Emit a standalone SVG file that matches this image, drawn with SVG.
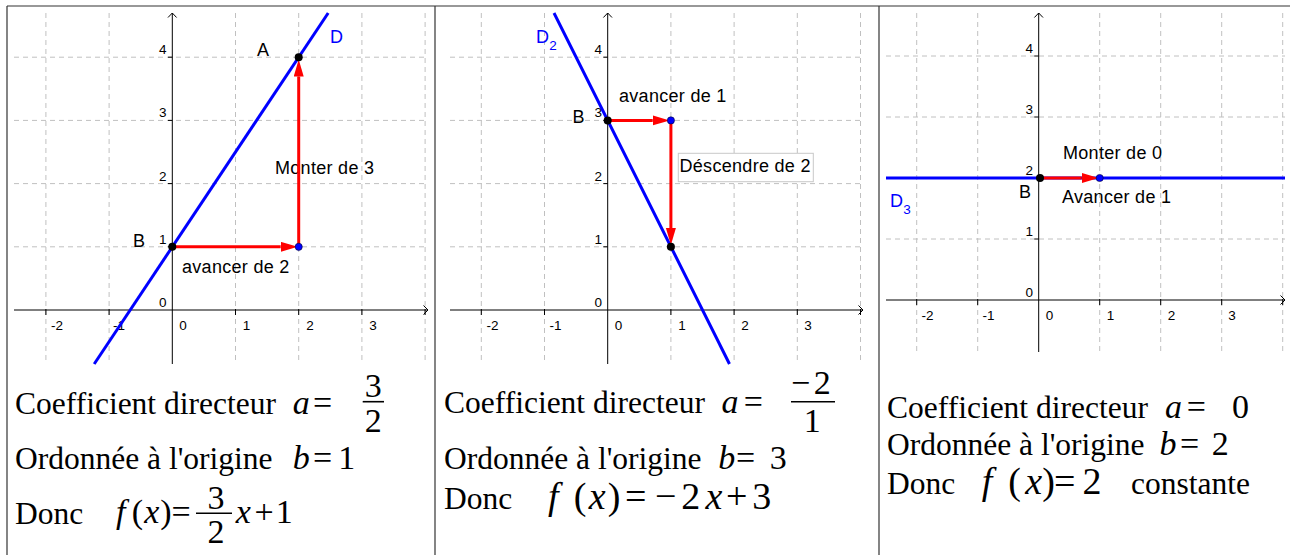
<svg xmlns="http://www.w3.org/2000/svg" width="1290" height="555" viewBox="0 0 1290 555">
<defs>
<style>
.grid{stroke:#c0c0c0;stroke-width:1;stroke-dasharray:5 4;fill:none}
.axis{stroke:#000;stroke-width:1;fill:none}
.tkx{font-family:'Liberation Sans',Arial,sans-serif;font-size:13.5px;fill:#000;text-anchor:middle}
.tky{font-family:'Liberation Sans',Arial,sans-serif;font-size:13.5px;fill:#000;text-anchor:end}
.lbl{font-family:'Liberation Sans',Arial,sans-serif;font-size:18px;fill:#000;letter-spacing:0.3px}
.blue{fill:#0000ff}
.dline{stroke:#0000ff;stroke-width:3;fill:none}
.vec{stroke:#ff0000;stroke-width:3;fill:none;marker-end:url(#ah)}
.pt{fill:#000}
.ptb{fill:#0000ff;stroke:#000033;stroke-width:0.6}
.border{stroke:#333;stroke-width:1.2;fill:none}
.ser{font-family:'Liberation Serif','Times New Roman',serif}
.txt{font-size:31.5px;fill:#000}
.m{font-size:34px;fill:#000;text-anchor:middle}
.mi{font-size:34px;fill:#000;text-anchor:middle;font-style:italic}
.mb{font-size:38px;fill:#000;text-anchor:middle}
.mbi{font-size:38px;fill:#000;text-anchor:middle;font-style:italic}
.bar{stroke:#000;stroke-width:1.6}
</style>
<marker id="ah" markerUnits="userSpaceOnUse" markerWidth="18" markerHeight="11" refX="0" refY="5" orient="auto">
<path d="M0,0 L17,5 L0,10 Z" fill="#ff0000"/>
</marker>
</defs>
<rect x="0" y="0" width="1290" height="555" fill="#fff"/>

<g id="borders">
<line class="border" x1="7" y1="6" x2="1290" y2="6"/>
<line class="border" x1="7" y1="6" x2="7" y2="555"/>
<line class="border" x1="435" y1="6" x2="435" y2="555"/>
<line class="border" x1="879" y1="6" x2="879" y2="555"/>
</g>

<!-- Panel 1 -->
<g id="panel1-grid">
<path class="grid" d="M45.9,13V364M109.1,13V364M235.5,13V364M298.7,13V364M361.9,13V364M425.1,13V364M14,246.8H428M14,183.6H428M14,120.4H428M14,57.2H428"/>
<path class="axis" d="M14,310H428M423.5,305.5L428,310L423.5,314.5M172.3,364V13M168,17.5L172.3,13L176.6,17.5"/>
<path class="axis" d="M45.9,309V315M109.1,309V315M235.5,309V315M298.7,309V315M361.9,309V315M425.1,309V315M168,246.8H172.3M168,183.6H172.3M168,120.4H172.3M168,57.2H172.3"/>
<text class="tkx" x="57" y="330">-2</text>
<text class="tkx" x="119" y="330">-1</text>
<text class="tkx" x="183" y="330">0</text>
<text class="tkx" x="246.5" y="330">1</text>
<text class="tkx" x="310" y="330">2</text>
<text class="tkx" x="373" y="330">3</text>
<text class="tky" x="166.5" y="307">0</text>
<text class="tky" x="166.5" y="243.8">1</text>
<text class="tky" x="166.5" y="180.6">2</text>
<text class="tky" x="166.5" y="117.4">3</text>
<text class="tky" x="166.5" y="54.2">4</text>
</g>
<g id="panel1-labels">
<text class="lbl" x="275" y="174">Monter de 3</text>
<text class="lbl" x="182" y="272.5">avancer de 2</text>
<text class="lbl" x="257" y="56">A</text>
<text class="lbl" x="133" y="247">B</text>
<text class="lbl blue" x="330" y="43">D</text>
</g>
<g id="panel1-line-D">
<line class="dline" x1="94.2" y1="364" x2="328.2" y2="13"/>
</g>
<g id="panel1-connectors">
<line class="vec" x1="172.3" y1="246.8" x2="280.7" y2="246.8"/>
<line class="vec" x1="298.7" y1="246.8" x2="298.7" y2="76.5"/>
</g>
<g id="panel1-points">
<circle class="pt" cx="172.3" cy="246.8" r="4"/>
<circle class="pt" cx="298.7" cy="57.2" r="4"/>
<circle class="ptb" cx="298.7" cy="246.8" r="3.6"/>
</g>
<g id="panel1-text" class="ser">
<text class="txt" x="15" y="414">Coefficient directeur</text>
<text class="mi" x="301.3" y="414">a</text>
<text class="m" x="322.5" y="414">=</text>
<text class="m" x="373.3" y="397">3</text>
<line class="bar" x1="362.7" y1="401.7" x2="384" y2="401.7"/>
<text class="m" x="373.3" y="431.5">2</text>
<text class="txt" x="15" y="469">Ordonnée à l'origine</text>
<text class="mi" x="301.3" y="469">b</text>
<text class="m" x="322.5" y="469">=</text>
<text class="m" x="346.7" y="469">1</text>
<text class="txt" x="15" y="524">Donc</text>
<text class="mi" x="120.7" y="523">f</text>
<text class="m" x="137.5" y="523">(</text>
<text class="mi" x="151.7" y="523">x</text>
<text class="m" x="165.8" y="523">)</text>
<text class="m" x="181" y="523">=</text>
<text class="m" x="216" y="509" font-size="31px">3</text>
<line class="bar" x1="196" y1="513.3" x2="232" y2="513.3"/>
<text class="m" x="216" y="543" font-size="31px">2</text>
<text class="mi" x="243.3" y="523">x</text>
<text class="m" x="264.2" y="523">+</text>
<text class="m" x="284.2" y="523">1</text>
</g>

<!-- Panel 2 -->
<g id="panel2-grid">
<path class="grid" d="M481.3,13V364M544.5,13V364M670.9,13V364M734.1,13V364M797.3,13V364M860.5,13V364M450,246.8H863M450,183.6H863M450,120.4H863M450,57.2H863"/>
<path class="axis" d="M450,310H863M858.5,305.5L863,310L858.5,314.5M607.7,364V13M603.4,17.5L607.7,13L612,17.5"/>
<path class="axis" d="M481.3,309V315M544.5,309V315M670.9,309V315M734.1,309V315M797.3,309V315M860.5,309V315M603.4,246.8H607.7M603.4,183.6H607.7M603.4,120.4H607.7M603.4,57.2H607.7"/>
<text class="tkx" x="492.5" y="330">-2</text>
<text class="tkx" x="555.5" y="330">-1</text>
<text class="tkx" x="618.5" y="330">0</text>
<text class="tkx" x="682" y="330">1</text>
<text class="tkx" x="745" y="330">2</text>
<text class="tkx" x="808" y="330">3</text>
<text class="tky" x="602" y="307">0</text>
<text class="tky" x="602" y="243.8">1</text>
<text class="tky" x="602" y="180.6">2</text>
<text class="tky" x="602" y="117.4">3</text>
<text class="tky" x="602" y="54.2">4</text>
</g>
<g id="panel2-labels">
<text class="lbl" x="619" y="101.5">avancer de 1</text>
<rect x="678.3" y="153.3" width="135" height="28.4" fill="#fff" stroke="#c8c8c8" stroke-width="1"/>
<text class="lbl" x="679.5" y="171.5" letter-spacing="0">Déscendre de 2</text>
<text class="lbl" x="572.5" y="122.7">B</text>
<text class="lbl blue" x="536" y="42.7">D<tspan font-size="13.5px" dy="7">2</tspan></text>
</g>
<g id="panel2-line-D2">
<line class="dline" x1="554" y1="13" x2="729.5" y2="364"/>
</g>
<g id="panel2-connectors">
<line class="vec" x1="607.7" y1="120.4" x2="652.7" y2="120.4"/>
<line class="vec" x1="670.9" y1="120.4" x2="670.9" y2="228"/>
</g>
<g id="panel2-points">
<circle class="pt" cx="607.7" cy="120.4" r="4"/>
<circle class="pt" cx="670.9" cy="246.8" r="4"/>
<circle class="ptb" cx="670.9" cy="120.4" r="3.6"/>
</g>
<g id="panel2-text" class="ser">
<text class="txt" x="444" y="413">Coefficient directeur</text>
<text class="mi" x="730" y="413">a</text>
<text class="m" x="753.3" y="413">=</text>
<text class="m" x="800.7" y="393.5">−</text>
<text class="m" x="822.3" y="393.5">2</text>
<line class="bar" x1="791" y1="401.7" x2="835" y2="401.7"/>
<text class="m" x="812.3" y="431.5">1</text>
<text class="txt" x="444" y="469">Ordonnée à l'origine</text>
<text class="mi" x="726.7" y="469">b</text>
<text class="m" x="745.7" y="469">=</text>
<text class="m" x="778.3" y="469">3</text>
<text class="txt" x="444" y="508.5">Donc</text>
<text class="mbi" x="553.3" y="508.5">f</text>
<text class="mb" x="580" y="508.5">(</text>
<text class="mbi" x="597.3" y="508.5">x</text>
<text class="mb" x="614" y="508.5">)</text>
<text class="mb" x="635.7" y="508.5">=</text>
<text class="mb" x="665.7" y="508.5">−</text>
<text class="mb" x="690.7" y="508.5">2</text>
<text class="mbi" x="714" y="508.5">x</text>
<text class="mb" x="736.7" y="508.5">+</text>
<text class="mb" x="761.7" y="508.5">3</text>
</g>

<!-- Panel 3 -->
<g id="panel3-grid">
<path class="grid" d="M916.7,13V352M977.7,13V352M1099.7,13V352M1160.7,13V352M1221.7,13V352M1282.7,13V352M886,239H1285M886,178H1285M886,117H1285M886,56H1285"/>
<path class="axis" d="M886,300H1285M1280.5,295.5L1285,300L1280.5,304.5M1038.7,352V13M1034.4,17.5L1038.7,13L1043,17.5"/>
<path class="axis" d="M916.7,299V305M977.7,299V305M1099.7,299V305M1160.7,299V305M1221.7,299V305M1282.7,299V305M1034.4,239H1038.7M1034.4,178H1038.7M1034.4,117H1038.7M1034.4,56H1038.7"/>
<text class="tkx" x="927.5" y="320">-2</text>
<text class="tkx" x="988.5" y="320">-1</text>
<text class="tkx" x="1049.5" y="320">0</text>
<text class="tkx" x="1110.5" y="320">1</text>
<text class="tkx" x="1171.5" y="320">2</text>
<text class="tkx" x="1232" y="320">3</text>
<text class="tky" x="1033" y="296.7">0</text>
<text class="tky" x="1033" y="235.5">1</text>
<text class="tky" x="1033" y="174.5">2</text>
<text class="tky" x="1033" y="113.5">3</text>
<text class="tky" x="1033" y="52.7">4</text>
</g>
<g id="panel3-labels">
<text class="lbl" x="1063" y="159.3">Monter de 0</text>
<text class="lbl" x="1062" y="203.3">Avancer de 1</text>
<text class="lbl" x="1019" y="198.3">B</text>
<text class="lbl blue" x="890" y="206.7">D<tspan font-size="13.5px" dy="7">3</tspan></text>
</g>
<g id="panel3-line-D3">
<line class="dline" x1="886" y1="178" x2="1285" y2="178"/>
</g>
<g id="panel3-connectors">
<line class="vec" x1="1038.7" y1="178" x2="1081.7" y2="178"/>
</g>
<g id="panel3-points">
<circle class="pt" cx="1040" cy="178" r="4"/>
<circle class="ptb" cx="1099.7" cy="178" r="3.6"/>
</g>
<g id="panel3-text" class="ser">
<text class="txt" x="887" y="418">Coefficient directeur</text>
<text class="mi" x="1173.5" y="418">a</text>
<text class="m" x="1196.3" y="418">=</text>
<text class="m" x="1240.5" y="418">0</text>
<text class="txt" x="887" y="455">Ordonnée à l'origine</text>
<text class="mi" x="1168" y="455">b</text>
<text class="m" x="1189.7" y="455">=</text>
<text class="m" x="1220.3" y="455">2</text>
<text class="txt" x="887" y="494">Donc</text>
<text class="mbi" x="987" y="494">f</text>
<text class="mb" x="1014.7" y="494">(</text>
<text class="mbi" x="1033.7" y="494">x</text>
<text class="mb" x="1048.7" y="494">)</text>
<text class="mb" x="1064.7" y="494">=</text>
<text class="mb" x="1092" y="494">2</text>
<text class="txt" x="1131" y="494">constante</text>
</g>
</svg>
